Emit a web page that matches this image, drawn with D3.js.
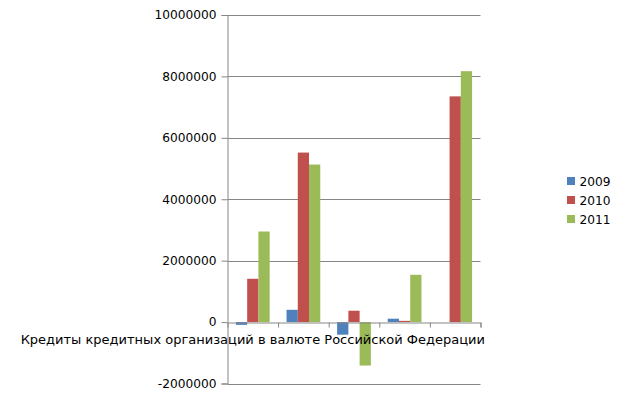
<!DOCTYPE html>
<html>
<head>
<meta charset="utf-8">
<script src="https://cdn.jsdelivr.net/npm/d3@7"></script>
<style>
  body { margin: 0; background: #fff; }
  svg { display: block; font-family: "DejaVu Sans", sans-serif; }
</style>
</head>
<body>
<div id="chart"></div>
<script>
// Data
const categories = ["Кредиты кредитных организаций в валюте Российской Федерации", "", "", "", ""];
const seriesNames = ["2009", "2010", "2011"];
const values2009 = [-90000, 400000, -410000, 110000, 0];
const values2010 = [1410000, 5520000, 370000, 40000, 7350000];
const values2011 = [2950000, 5130000, -1415000, 1540000, 8170000];
const yTicks = [-2000000, 0, 2000000, 4000000, 6000000, 8000000, 10000000];
const colors = ["#4F81BD", "#C0504D", "#9BBB59"];

const series = [values2009, values2010, values2011];

const width = 624, height = 399;
const plot = { left: 227.5, right: 480.5, top: 15, bottom: 383.5 };

const svg = d3.select("#chart").append("svg")
    .attr("width", width)
    .attr("height", height);

// Scales
const y = d3.scaleLinear()
    .domain([-2000000, 10000000])
    .range([plot.bottom, plot.top]);

const x = d3.scaleBand()
    .domain(d3.range(categories.length))
    .range([plot.left, plot.right])
    .paddingInner(0)
    .paddingOuter(0);

// bars: Excel gap width 150%
const barW = x.bandwidth() / (seriesNames.length + 1.5);
const xInner = d3.scaleBand()
    .domain(d3.range(seriesNames.length))
    .range([0.75 * barW, 0.75 * barW + barW * seriesNames.length]);

// Grid + value axis
const gridColor = "#868686";
const yAxis = d3.axisLeft(y)
    .tickValues(yTicks)
    .tickSize(6)
    .tickPadding(5)
    .tickFormat(d => String(d));

const gy = svg.append("g")
    .attr("transform", `translate(${plot.left},0)`)
    .call(yAxis);
gy.attr("font-family", null).attr("font-size", null);
gy.select(".domain").attr("stroke", gridColor);
gy.selectAll(".tick line").attr("stroke", gridColor);
gy.selectAll(".tick text").attr("fill", "#000").style("font-size", "12.2px");

svg.append("g")
    .selectAll("line")
    .data(yTicks.filter(d => d !== 0))
    .join("line")
    .attr("x1", plot.left)
    .attr("x2", plot.right)
    .attr("y1", d => Math.round(y(d)) + 0.5)
    .attr("y2", d => Math.round(y(d)) + 0.5)
    .attr("stroke", gridColor);

// Bars
series.forEach((vals, si) => {
    svg.append("g")
        .selectAll("rect")
        .data(vals)
        .join("rect")
        .attr("x", (d, i) => x(i) + xInner(si))
        .attr("width", xInner.bandwidth())
        .attr("y", d => y(Math.max(0, d)))
        .attr("height", d => Math.abs(y(d) - y(0)))
        .attr("fill", colors[si]);
});

// Category axis at zero
const xAxisScale = d3.scaleLinear().domain([0, categories.length]).range([plot.left, plot.right]);
const gx = svg.append("g")
    .attr("transform", `translate(0,${Math.round(y(0)) + 0.5})`)
    .call(d3.axisBottom(xAxisScale).tickValues(d3.range(1, categories.length + 1)).tickSize(5).tickFormat(""));
gx.select(".domain").attr("stroke", gridColor);
gx.selectAll(".tick line").attr("stroke", gridColor);

svg.append("g")
    .selectAll("text")
    .data(categories)
    .join("text")
    .attr("x", (d, i) => x(i) + x.bandwidth() / 2)
    .attr("y", y(0) + 21.5)
    .attr("text-anchor", "middle")
    .style("font-size", "13px")
    .attr("fill", "#000")
    .text(d => d);

// Legend
const legend = svg.append("g")
    .selectAll("g")
    .data(seriesNames)
    .join("g")
    .attr("transform", (d, i) => `translate(567,${181 + i * 19})`);
legend.append("rect")
    .attr("x", 0).attr("y", -4)
    .attr("width", 8).attr("height", 8)
    .attr("fill", (d, i) => colors[i]);
legend.append("text")
    .attr("x", 12.5).attr("y", 4.5)
    .style("font-size", "12.2px")
    .attr("fill", "#000")
    .text(d => d);
</script>
</body>
</html>
